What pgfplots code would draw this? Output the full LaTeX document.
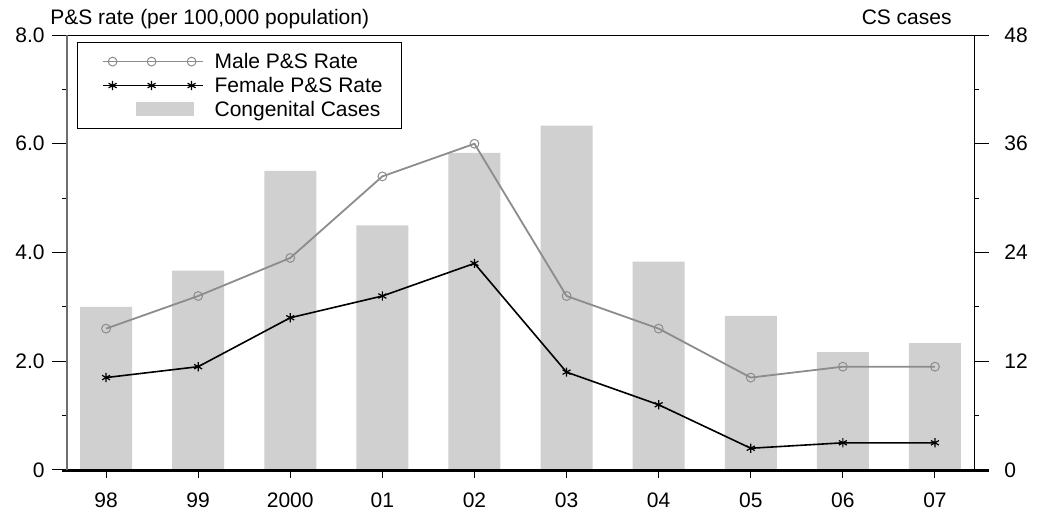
\documentclass[border=0pt]{standalone}
\usepackage{fontspec}
\setmainfont{Liberation Sans}
\usepackage{pgfplots}
\pgfplotsset{compat=1.18}
\usetikzlibrary{calc}
\definecolor{barg}{RGB}{208,208,208}
\definecolor{maleg}{RGB}{140,140,140}
\definecolor{axg}{RGB}{110,110,110}
\pgfplotsset{
  mylegline/.style={legend image code/.code={
    \path[draw=none] (-8pt,0pt) -- (51pt,0pt);
    \draw[##1, mark indices={2,3,4}] plot coordinates {(0pt,0pt) (5pt,0pt) (24.5pt,0pt) (44.5pt,0pt) (50pt,0pt)};}},
  mylegbar/.style={legend image code/.code={
    \path[draw=none] (-8pt,0pt) -- (51pt,0pt);
    \fill[barg, draw=none] (16.5pt,-3.5pt) rectangle (45.5pt,3.5pt);}},
}
\begin{document}
\fontsize{10.5}{12}\selectfont
\begin{tikzpicture}
\pgfplotsset{
  base/.style={
    scale only axis, width=453.5pt, height=217.5pt,
    xmin=-0.424, xmax=9.424,
    font=\fontsize{10.5}{12}\selectfont,
    tick label style={font=\fontsize{10.5}{12}\selectfont},
    tick align=outside,
    major tick length=7.5pt, minor tick length=2.5pt,
    tick style={black, line width=0.5pt},
    /pgf/number format/assume math mode=true,
    clip=false,
  }
}
\begin{axis}[base,
  ymin=0, ymax=48,
  axis y line*=right, axis x line*=bottom,
  ytick={0,12,24,36,48}, minor ytick={6,18,30,42},
  yticklabels={0,12,24,36,48},
  yticklabel style={xshift=4pt},
  xtick={0,...,9},
  xticklabels={98,99,2000,01,02,03,04,05,06,07},
  xtick style={/pgfplots/major tick length=4pt},
  xticklabel style={yshift=0pt},
  axis line style={black, line width=0.5pt},
]
\addplot[ybar, bar width=26pt, fill=barg, draw=none] coordinates {
  (0,18) (1,22) (2,33) (3,27) (4,35) (5,38) (6,23) (7,17) (8,13) (9,14)};
\draw[line width=1.5pt] ([xshift=-2.5pt]rel axis cs:0,0) -- ([xshift=7.5pt]rel axis cs:1,0);
\coordinate (BL) at (rel axis cs:0,0);
\coordinate (TR) at (rel axis cs:1,1);
\node[anchor=base east, inner sep=0pt] at ($(rel axis cs:1,1)+(-11pt,5.5pt)$) {CS cases};
\end{axis}
\begin{axis}[base,
  ymin=0, ymax=8,
  axis y line*=left, axis x line*=top,
  xtick=\empty,
  ytick={0,2,4,6,8}, minor ytick={1,3,5,7},
  yticklabels={0,2.0,4.0,6.0,8.0},
  y axis line style={axg, line width=0.9pt},
  x axis line style={black, line width=0.5pt},
  legend style={at={(rel axis cs:0,1)}, anchor=north west, xshift=5pt, yshift=-3.5pt,
    draw=black, line width=0.6pt, font=\fontsize{10.5}{12}\selectfont,
    inner xsep=4.5pt, inner ysep=4.5pt, row sep=2pt,
    nodes={inner xsep=5pt, inner ysep=0pt}},
  legend cell align=left,
]
\addplot[maleg, line width=0.9pt, mark=o, mark size=2.2pt, mark options={solid, line width=0.5pt}, mylegline]
  coordinates {(0,2.6) (1,3.2) (2,3.9) (3,5.4) (4,6.0) (5,3.2) (6,2.6) (7,1.7) (8,1.9) (9,1.9)};
\addlegendentry{\strut Male P\&S Rate}
\addplot[black, line width=0.8pt, mark=asterisk, mark size=2.3pt, mark options={solid, line width=0.6pt}, mylegline]
  coordinates {(0,1.7) (1,1.9) (2,2.8) (3,3.2) (4,3.8) (5,1.8) (6,1.2) (7,0.4) (8,0.5) (9,0.5)};
\addlegendentry{\strut Female P\&S Rate}
\addlegendimage{mylegbar}
\addlegendentry{\strut Congenital Cases}
\node[anchor=base west, inner sep=0pt] at ($(rel axis cs:0,1)+(-8.5pt,5.5pt)$) {P\&S rate (per 100,000 population)};
\end{axis}
\pgfresetboundingbox
\path[use as bounding box] ($(BL)+(-33.5pt,-20pt)$) rectangle ($(TR)+(37pt,17.5pt)$);
\end{tikzpicture}
\end{document}
